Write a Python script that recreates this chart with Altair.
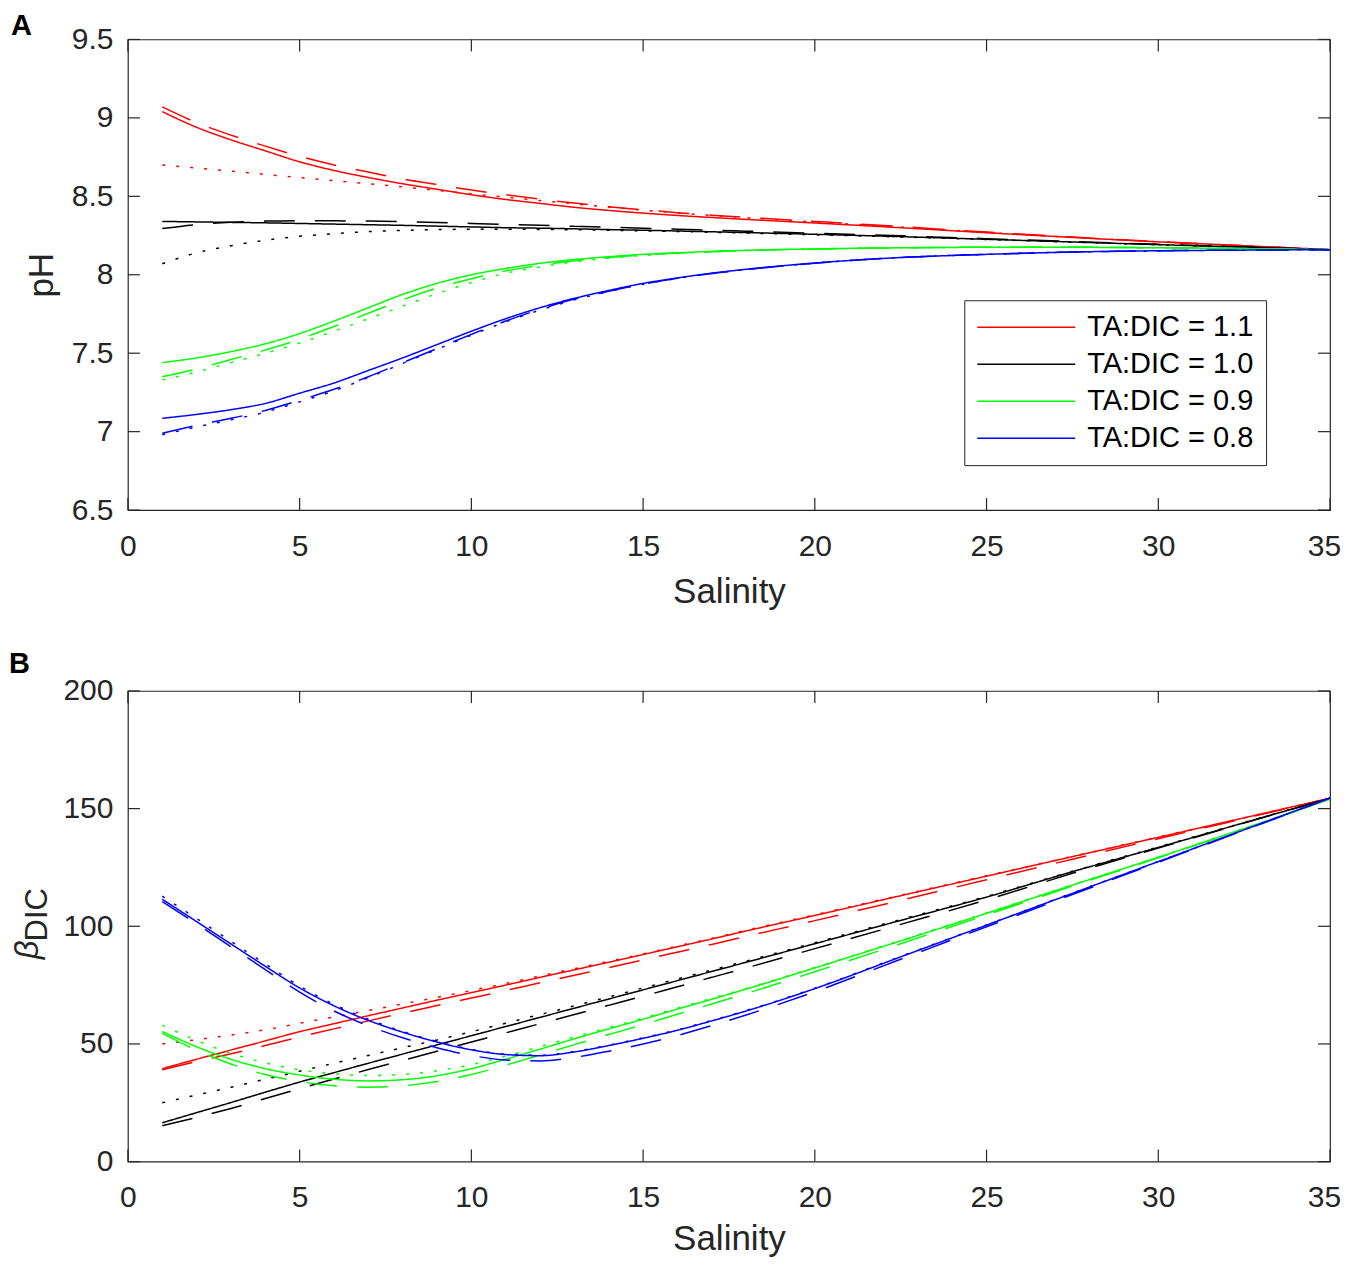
import altair as alt
import pandas as pd

# ---------------- data ----------------
SAL = [1, 2, 3, 4, 5, 6, 7, 8, 9, 10, 11, 12, 13, 14, 15, 16, 17, 18, 20, 22.5, 25, 27.5, 30, 32.5, 35]

RATIOS = ["TA:DIC = 1.1", "TA:DIC = 1.0", "TA:DIC = 0.9", "TA:DIC = 0.8"]
COLORS = ["#ff0000", "#000000", "#00ff00", "#0000ff"]
STYLES = ["solid", "dashed", "dotted"]

X_TICKS = [0, 5, 10, 15, 20, 25, 30, 35]
PH_TICKS = [6.5, 7, 7.5, 8, 8.5, 9, 9.5]
BETA_TICKS = [0, 50, 100, 150, 200]

# panel A: pH
PH_R_SOLID = [9.04, 8.94, 8.86, 8.79, 8.72, 8.665, 8.62, 8.58, 8.545, 8.51, 8.48, 8.455, 8.43, 8.41, 8.393, 8.378, 8.365, 8.353, 8.33, 8.30, 8.268, 8.238, 8.21, 8.185, 8.16]
PH_R_DASH = [9.07, 8.97, 8.89, 8.82, 8.755, 8.70, 8.655, 8.61, 8.575, 8.54, 8.51, 8.482, 8.457, 8.434, 8.414, 8.396, 8.38, 8.366, 8.34, 8.307, 8.272, 8.24, 8.211, 8.185, 8.16]
PH_R_DOT = [8.70, 8.68, 8.66, 8.64, 8.62, 8.60, 8.58, 8.56, 8.538, 8.516, 8.495, 8.473, 8.452, 8.432, 8.412, 8.394, 8.378, 8.364, 8.337, 8.304, 8.27, 8.239, 8.21, 8.185, 8.16]
PH_K_SOLID = [8.34, 8.337, 8.334, 8.331, 8.327, 8.323, 8.319, 8.315, 8.31, 8.305, 8.30, 8.297, 8.293, 8.288, 8.284, 8.279, 8.274, 8.269, 8.258, 8.243, 8.226, 8.209, 8.192, 8.176, 8.16]
PH_K_DASH = [8.295, 8.32, 8.335, 8.342, 8.345, 8.344, 8.342, 8.338, 8.333, 8.327, 8.321, 8.315, 8.309, 8.303, 8.297, 8.29, 8.284, 8.278, 8.265, 8.248, 8.23, 8.212, 8.194, 8.177, 8.16]
PH_K_DOT = [8.07, 8.14, 8.185, 8.22, 8.245, 8.262, 8.275, 8.283, 8.288, 8.29, 8.29, 8.289, 8.287, 8.284, 8.28, 8.276, 8.271, 8.266, 8.255, 8.241, 8.225, 8.208, 8.192, 8.176, 8.16]
PH_G_SOLID = [7.44, 7.47, 7.51, 7.56, 7.625, 7.705, 7.79, 7.875, 7.945, 8.00, 8.04, 8.073, 8.097, 8.115, 8.13, 8.14, 8.149, 8.156, 8.165, 8.172, 8.175, 8.175, 8.172, 8.167, 8.16]
PH_G_DASH = [7.35, 7.40, 7.46, 7.52, 7.59, 7.67, 7.755, 7.84, 7.915, 7.975, 8.025, 8.06, 8.09, 8.11, 8.127, 8.138, 8.147, 8.155, 8.164, 8.172, 8.175, 8.175, 8.172, 8.167, 8.16]
PH_G_DOT = [7.33, 7.38, 7.44, 7.50, 7.565, 7.64, 7.72, 7.80, 7.88, 7.95, 8.01, 8.05, 8.082, 8.106, 8.123, 8.136, 8.146, 8.154, 8.164, 8.172, 8.175, 8.175, 8.172, 8.167, 8.16]
PH_B_SOLID = [7.085, 7.11, 7.14, 7.18, 7.245, 7.31, 7.39, 7.47, 7.555, 7.64, 7.72, 7.79, 7.85, 7.90, 7.945, 7.98, 8.01, 8.035, 8.075, 8.11, 8.13, 8.145, 8.153, 8.157, 8.16]
PH_B_DASH = [6.99, 7.04, 7.085, 7.135, 7.20, 7.27, 7.35, 7.44, 7.53, 7.62, 7.705, 7.78, 7.845, 7.895, 7.94, 7.977, 8.008, 8.033, 8.074, 8.11, 8.13, 8.145, 8.153, 8.157, 8.16]
PH_B_DOT = [6.98, 7.03, 7.075, 7.125, 7.19, 7.26, 7.345, 7.435, 7.525, 7.615, 7.70, 7.775, 7.84, 7.893, 7.94, 7.977, 8.008, 8.033, 8.074, 8.11, 8.13, 8.145, 8.153, 8.157, 8.16]

# panel B: beta_DIC
B_R_SOLID = [39.5, 43.5, 47.4, 51.3, 55.2, 58.6, 62, 65.3, 68.6, 71.8, 75, 78.3, 81.5, 84.7, 88, 91.3, 94.6, 98, 104.6, 113, 121.3, 129.6, 137.8, 146.1, 154.4]
B_R_DASH = [39, 42.5, 45.8, 49.3, 53, 56.4, 59.8, 63.1, 66.3, 69.5, 72.7, 76, 79.2, 82.4, 85.7, 89, 92.3, 95.7, 102.4, 111, 119.8, 128.5, 137.2, 145.8, 154.4]
B_R_DOT = [50, 51.8, 53.8, 56, 58.8, 61.5, 64.2, 67, 69.8, 72.7, 75.7, 78.9, 82, 85.1, 88.3, 91.6, 94.9, 98.3, 104.9, 113.2, 121.5, 129.7, 137.9, 146.1, 154.4]
B_K_SOLID = [16.5, 20.8, 25.1, 29.5, 33.8, 37.8, 41.8, 45.7, 49.6, 53.5, 57.4, 61.3, 65.2, 69.1, 73, 76.9, 80.8, 84.7, 92.6, 102.5, 112.4, 123.2, 133.5, 144, 154.4]
B_K_DASH = [15.3, 18.8, 22.6, 26.8, 31, 35.1, 39.1, 43, 46.9, 50.8, 54.7, 58.6, 62.5, 66.4, 70.3, 74.3, 78.3, 82.3, 90.5, 100.8, 111.2, 122.5, 133.2, 143.9, 154.4]
B_K_DOT = [25, 28.3, 31.6, 35, 38.4, 41.8, 45.1, 48.4, 51.7, 55.2, 58.8, 62.5, 66.2, 70, 73.8, 77.6, 81.4, 85.2, 93, 102.9, 112.7, 123.4, 133.7, 144.1, 154.4]
B_G_SOLID = [55.3, 48.8, 43.5, 39.5, 36.8, 35, 34.3, 34.8, 36.5, 39.5, 43.5, 47.8, 52.2, 56.4, 60.5, 64.8, 69, 73.3, 82.3, 93.8, 105.5, 117.5, 129.3, 141.5, 154]
B_G_DASH = [54.5, 47.3, 41.5, 37, 34, 32.2, 31.6, 32.2, 34, 37, 41, 45.3, 49.7, 54, 58.2, 62.6, 67, 71.4, 80.7, 92.6, 104.8, 117.1, 129.1, 141.4, 154]
B_G_DOT = [58, 51.5, 46, 42, 39, 37.3, 36.6, 37, 38.6, 41.2, 44.8, 48.9, 53, 57, 61, 65.2, 69.4, 73.6, 82.5, 94, 105.7, 117.6, 129.4, 141.6, 154]
B_B_SOLID = [111.5, 102, 92.5, 83, 73.8, 66.2, 60, 55, 50.8, 47.5, 45.5, 45, 46.6, 49.3, 52.4, 55.8, 59.8, 64, 73.5, 87, 100.5, 114, 127.5, 141, 154.5]
B_B_DASH = [110.5, 101, 91.3, 81.6, 72, 64, 57.7, 52.6, 48.4, 45.1, 43.2, 42.8, 44.3, 46.9, 50, 53.6, 57.8, 62.3, 72.2, 86, 99.8, 113.5, 127.2, 140.8, 154.5]
B_B_DOT = [112.8, 103.3, 93.6, 84, 74.6, 66.8, 60.5, 55.3, 51, 47.7, 45.7, 45.2, 46.8, 49.5, 52.6, 56, 60, 64.2, 73.7, 87.2, 100.6, 114.1, 127.5, 141, 154.5]

PH_SERIES = [
    (RATIOS[0], "solid", PH_R_SOLID), (RATIOS[0], "dashed", PH_R_DASH), (RATIOS[0], "dotted", PH_R_DOT),
    (RATIOS[1], "solid", PH_K_SOLID), (RATIOS[1], "dashed", PH_K_DASH), (RATIOS[1], "dotted", PH_K_DOT),
    (RATIOS[2], "solid", PH_G_SOLID), (RATIOS[2], "dashed", PH_G_DASH), (RATIOS[2], "dotted", PH_G_DOT),
    (RATIOS[3], "solid", PH_B_SOLID), (RATIOS[3], "dashed", PH_B_DASH), (RATIOS[3], "dotted", PH_B_DOT),
]
BETA_SERIES = [
    (RATIOS[0], "solid", B_R_SOLID), (RATIOS[0], "dashed", B_R_DASH), (RATIOS[0], "dotted", B_R_DOT),
    (RATIOS[1], "solid", B_K_SOLID), (RATIOS[1], "dashed", B_K_DASH), (RATIOS[1], "dotted", B_K_DOT),
    (RATIOS[2], "solid", B_G_SOLID), (RATIOS[2], "dashed", B_G_DASH), (RATIOS[2], "dotted", B_G_DOT),
    (RATIOS[3], "solid", B_B_SOLID), (RATIOS[3], "dashed", B_B_DASH), (RATIOS[3], "dotted", B_B_DOT),
]


def to_long(series):
    rows = []
    for ratio, style, vals in series:
        for s, v in zip(SAL, vals):
            rows.append({"ratio": ratio, "style": style, "S": s, "v": v})
    return pd.DataFrame(rows)


FONT = "Liberation Sans"
AX = "#262626"
W, H = 1203, 471
TL = 12  # inward tick length
LAST_LABEL_SHIFT = {"condition": {"test": "datum.value === 35", "value": -6}, "value": 0}


def panel(series, yticks, ydom, yfmt, ytitle, xtitle_pad, legend, extra_texts, spacer=False):
    df = to_long(series)
    xscale = alt.Scale(domain=[0, 35], nice=False)
    yscale = alt.Scale(domain=ydom, nice=False, zero=False)
    xaxis = alt.Axis(values=X_TICKS, format="d", title="Salinity", titlePadding=xtitle_pad,
                     labelOffset=LAST_LABEL_SHIFT)
    if ytitle:
        yaxis = alt.Axis(values=yticks, format=yfmt, title=ytitle)
    else:
        yaxis = alt.Axis(values=yticks, format=yfmt, title=None)
    X = lambda: alt.X("S:Q", scale=xscale, axis=xaxis)
    Y = lambda: alt.Y("v:Q", scale=yscale, axis=yaxis)
    lines = alt.Chart(df).mark_line(strokeWidth=1.5, interpolate="monotone").encode(
        x=X(),
        y=Y(),
        color=alt.Color("ratio:N", scale=alt.Scale(domain=RATIOS, range=COLORS), legend=legend, title=None),
        strokeDash=alt.StrokeDash(
            "style:N",
            scale=alt.Scale(domain=STYLES, range=[[1, 0], [31, 20], [3, 11]]),
            legend=None,
        ),
    )
    xt = pd.DataFrame({"S": X_TICKS})
    yt = pd.DataFrame({"v": yticks})
    rule = dict(color=AX, strokeWidth=1.2)
    t_bottom = alt.Chart(xt).mark_rule(**rule).encode(x=X(), y=alt.value(H), y2=alt.value(H - TL))
    t_top = alt.Chart(xt).mark_rule(**rule).encode(x=X(), y=alt.value(0), y2=alt.value(TL))
    t_left = alt.Chart(yt).mark_rule(**rule).encode(y=Y(), x=alt.value(0), x2=alt.value(TL))
    t_right = alt.Chart(yt).mark_rule(**rule).encode(y=Y(), x=alt.value(W), x2=alt.value(W - TL))
    layers = [lines, t_bottom, t_top, t_left, t_right]
    if spacer:
        # invisible spacer that keeps a little headroom above the panel label
        layers.append(
            alt.Chart(pd.DataFrame({"t": [0]})).mark_rule(strokeOpacity=0, strokeWidth=1).encode(
                x=alt.value(0), x2=alt.value(1), y=alt.value(-30), y2=alt.value(-29))
        )
    for txt, props, xv, yv in extra_texts:
        layers.append(
            alt.Chart(pd.DataFrame({"t": [txt]})).mark_text(font=FONT, **props).encode(
                text="t:N", x=alt.value(xv), y=alt.value(yv))
        )
    return alt.layer(*layers).properties(width=W, height=H)


legend_a = alt.Legend(
    orient="none", legendX=837, legendY=261, direction="vertical",
    symbolType="stroke", symbolSize=9604, symbolStrokeWidth=1.5, clipHeight=30,
    labelFont=FONT, labelFontSize=29, labelColor="#000000", labelOffset=11, labelLimit=400,
    padding=12, rowPadding=7, strokeColor=AX, fillColor="#ffffff",
)

top = panel(
    PH_SERIES, PH_TICKS, [6.5, 9.5], "~g", "pH", 13, legend_a,
    [("A", dict(fontSize=29, fontWeight="bold", align="left", baseline="top", color="#000000"), -117, -27)],
    spacer=True,
)
bottom = panel(
    BETA_SERIES, BETA_TICKS, [0, 200], "d", None, 9, None,
    [
        ("B", dict(fontSize=29, fontWeight="bold", align="left", baseline="alphabetic", color="#000000"), -119, -18),
        ("β", dict(fontSize=33, fontStyle="italic", angle=270, align="center", baseline="alphabetic", color=AX), -90, 259),
        ("DIC", dict(fontSize=31, angle=270, align="center", baseline="alphabetic", color=AX), -81, 224),
    ],
)

chart = (
    alt.vconcat(top, bottom, spacing=181, bounds="flush")
    .resolve_scale(color="independent")
    .properties(padding=0, background="#ffffff")
    .configure_view(stroke=AX, strokeWidth=1.2)
    .configure_axis(
        labelFont=FONT, titleFont=FONT, labelFontSize=30, titleFontSize=35,
        titleFontWeight="normal", labelColor=AX, titleColor=AX,
        grid=False, domain=False, ticks=False, tickSize=0, labelFlush=False,
    )
    .configure_axisX(labelPadding=21)
    .configure_axisY(labelPadding=15, titlePadding=12)
)

chart.save("out.html", embed_options={"renderer": "svg", "actions": False})
